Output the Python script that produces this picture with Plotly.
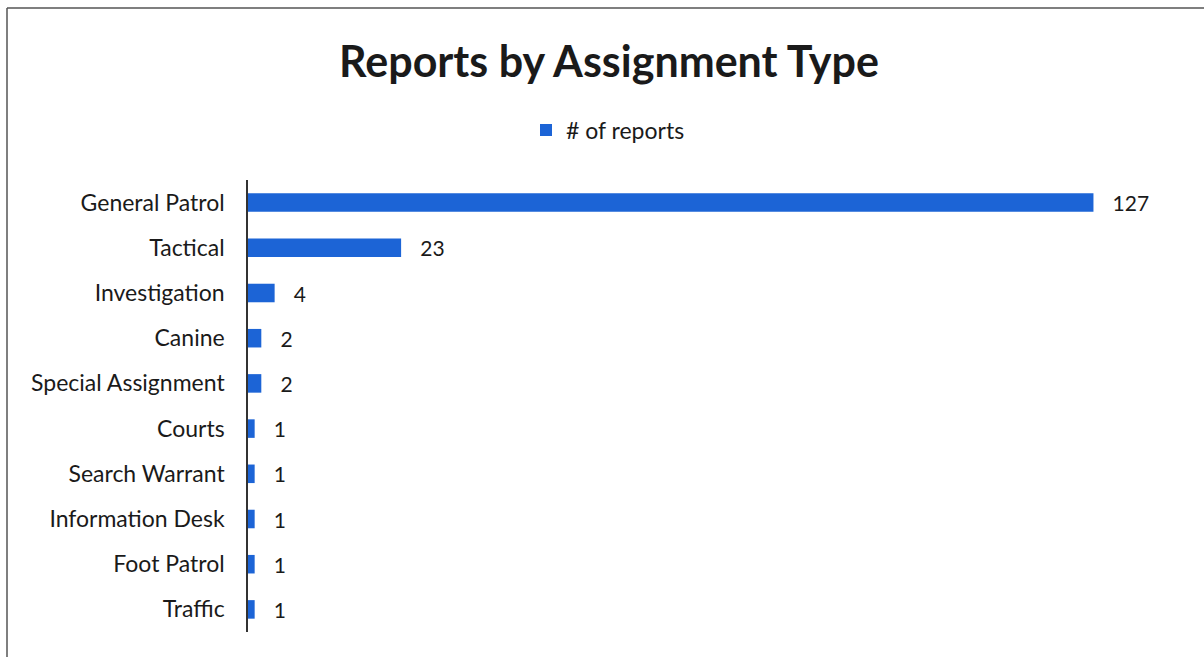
import plotly.graph_objects as go

categories = ["General Patrol", "Tactical", "Investigation", "Canine", "Special Assignment",
              "Courts", "Search Warrant", "Information Desk", "Foot Patrol", "Traffic"]
values = [127, 23, 4, 2, 2, 1, 1, 1, 1, 1]
series_name = "# of reports"
title_text = "Reports by Assignment Type"

W, H = 1204, 657
L, R, T, B = 248, 24, 180, 25
pw, ph = W - L - R, H - T - B

def px(x):
    return (x - L) / pw

def py(y):
    return (H - B - y) / ph

FONT = "Lato"
TXT = "#1a1a1a"
BAR = "#1c64d6"

fig = go.Figure()
fig.add_trace(go.Bar(
    x=values, y=categories, orientation="h", name=series_name,
    marker=dict(color=BAR, line=dict(width=0)), width=0.41,
    text=values, texttemplate="   %{x}", textposition="outside", constraintext="none",
    textfont=dict(family=FONT, size=21, color=TXT), cliponaxis=False,
    showlegend=True,
))

fig.update_layout(
    width=W, height=H,
    margin=dict(l=L, r=R, t=T, b=B),
    paper_bgcolor="white", plot_bgcolor="white",
    title=dict(text="<b>" + title_text + "</b>", x=609 / W, xanchor="center",
               y=1 - 62 / H, yanchor="middle",
               font=dict(family=FONT, size=43, color=TXT)),
    legend=dict(orientation="h", x=px(608), xanchor="center", y=py(130), yanchor="middle",
                font=dict(family=FONT, size=23, color=TXT), itemwidth=30),
    xaxis=dict(range=[0, 140], showgrid=False, zeroline=False, showticklabels=False,
               showline=False, ticks=""),
    yaxis=dict(autorange="reversed", showline=True, linecolor="#333", linewidth=1.5,
               showgrid=False, ticks="", ticklabelstandoff=17,
               tickfont=dict(family=FONT, size=23, color=TXT)),
    bargap=0.6,
    shapes=[
        dict(type="line", xref="paper", yref="paper", x0=px(7), x1=px(W + 5), y0=py(8), y1=py(8),
             line=dict(color="#555", width=1.5)),
        dict(type="line", xref="paper", yref="paper", x0=px(7), x1=px(7), y0=py(8), y1=py(H + 5),
             line=dict(color="#555", width=1.5)),
    ],
)

fig.write_html("out.html", post_script="document.body.style.margin='0';",
               config={"displayModeBar": False})
